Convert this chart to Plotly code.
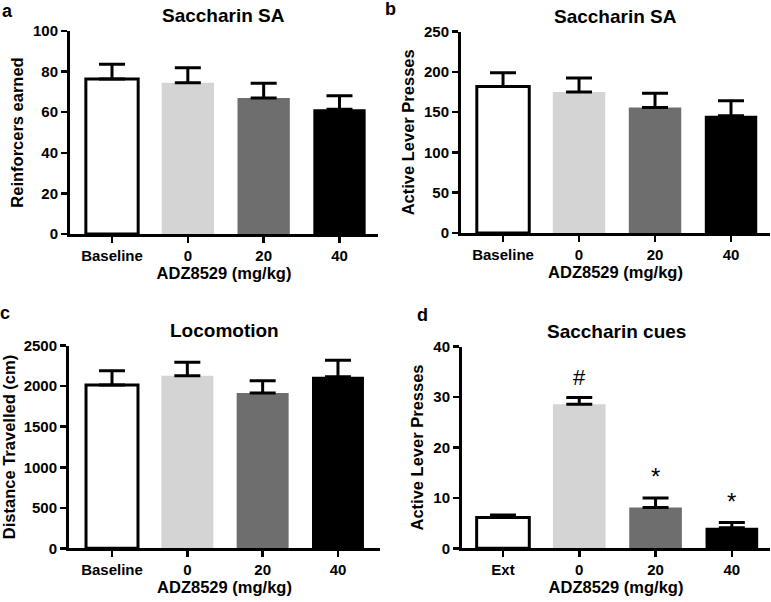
import plotly.graph_objects as go

# ---------------- data ----------------
cats_sa = ["Baseline", "0", "20", "40"]
cats_cue = ["Ext", "0", "20", "40"]

reinforcers_mean = [76.4, 74.5, 67.0, 61.4]
reinforcers_sem = [7.2, 7.4, 7.2, 6.7]

active_sa_mean = [182, 175, 156, 145.5]
active_sa_sem = [17, 17.5, 17.5, 18.7]

distance_mean = [2015, 2130, 1916, 2117]
distance_sem = [176, 165, 152, 203]

cue_mean = [6.1, 28.6, 8.1, 4.1]
cue_sem = [0.5, 1.3, 1.9, 1.0]
cue_marks = ["", "#", "*", "*"]

yticks_a = [0, 20, 40, 60, 80, 100]
yticks_b = [0, 50, 100, 150, 200, 250]
yticks_c = [0, 500, 1000, 1500, 2000, 2500]
yticks_d = [0, 10, 20, 30, 40]

bar_colors = ["#ffffff", "#d4d4d4", "#6e6e6e", "#000000"]
bar_line_w = [3, 0, 0, 0]

FONT = "Liberation Sans"

fig = go.Figure()

panels = [
    (cats_sa, reinforcers_mean, reinforcers_sem, "x", "y",
     [70/771, 378/771], [1-234/602, 1-31/602], [-0.554, 3.508], [0, 100], yticks_a,
     "Reinforcers earned", "Saccharin SA"),
    (cats_sa, active_sa_mean, active_sa_sem, "x2", "y2",
     [461/771, 770/771], [1-233/602, 1-31.7/602], [-0.553, 3.513], [0, 250], yticks_b,
     "Active Lever Presses", "Saccharin SA"),
    (cats_sa, distance_mean, distance_sem, "x3", "y3",
     [69/771, 380/771], [1-548.3/602, 1-345.7/602], [-0.571, 3.558], [0, 2500], yticks_c,
     "Distance Travelled (cm)", "Locomotion"),
    (cats_cue, cue_mean, cue_sem, "x4", "y4",
     [462/771, 770/771], [1-548.3/602, 1-346.7/602], [-0.537, 3.5], [0, 40], yticks_d,
     "Active Lever Presses", "Saccharin cues"),
]

layout_axes = {}
annotations = []
for i, (cats, mean, sem, xa, ya, xdom, ydom, xr, yr, yt, ytitle, title) in enumerate(panels):
    fig.add_trace(go.Bar(
        x=cats, y=mean, xaxis=xa, yaxis=ya, width=0.69,
        marker=dict(color=bar_colors, line=dict(color="black", width=bar_line_w)),
        error_y=dict(type="data", symmetric=False, array=sem, arrayminus=[0]*len(sem),
                     color="black", thickness=3, width=13),
        showlegend=False, hoverinfo="skip",
    ))
    suffix = "" if i == 0 else str(i + 1)
    layout_axes["xaxis" + suffix] = dict(
        domain=xdom, anchor="y" + suffix, type="category", range=xr,
        showline=True, linecolor="black", linewidth=3, mirror=False,
        ticks="outside", ticklen=6, tickwidth=2.5, tickcolor="black",
        showgrid=False, zeroline=False, fixedrange=True, automargin=False,
        tickfont=dict(family=FONT, size=15, color="black", weight="bold"),
        title=dict(text="ADZ8529 (mg/kg)", standoff=4,
                   font=dict(family=FONT, size=16.5, color="black", weight="bold")),
    )
    layout_axes["yaxis" + suffix] = dict(
        domain=ydom, anchor="x" + suffix, range=yr, tickvals=yt,
        showline=True, linecolor="black", linewidth=3,
        ticks="outside", ticklen=6, tickwidth=2.5, tickcolor="black",
        showgrid=False, zeroline=False, fixedrange=True, automargin=False,
        tickfont=dict(family=FONT, size=15, color="black", weight="bold"),
        title=dict(text=ytitle, standoff=6,
                   font=dict(family=FONT, size=16.5, color="black", weight="bold")),
    )
    xc = (xdom[0] + xdom[1]) / 2
    annotations.append(dict(
        text=title, xref="paper", yref="paper", x=xc, y=ydom[1] + 0.005,
        xanchor="center", yanchor="bottom", showarrow=False,
        font=dict(family=FONT, size=19, color="black", weight="bold"),
    ))

for letter, (lx, ly) in zip(["a", "b", "c", "d"], [(7, 11), (390, 9), (5, 313), (422, 315)]):
    annotations.append(dict(
        text=letter, xref="paper", yref="paper", x=lx/771, y=1-ly/602,
        xanchor="center", yanchor="middle", showarrow=False,
        font=dict(family=FONT, size=18, color="black", weight="bold"),
    ))

for idx, (m, s, mark) in enumerate(zip(cue_mean, cue_sem, cue_marks)):
    if mark:
        annotations.append(dict(
            text=mark, xref="x4", yref="y4", x=idx, y=m + s,
            xanchor="center", yanchor="bottom", yshift=6, showarrow=False,
            font=dict(family=FONT, size=22 if mark == "#" else 24, color="black"),
        ))

fig.update_layout(
    width=771, height=602,
    margin=dict(l=0, r=0, t=0, b=0, autoexpand=False),
    paper_bgcolor="white", plot_bgcolor="white",
    bargap=0.3,
    annotations=annotations,
    **layout_axes,
)

fig.write_html(
    "out.html",
    config={"displayModeBar": False, "staticPlot": True},
    post_script="document.body.style.margin='0';document.body.style.overflow='hidden';",
)
